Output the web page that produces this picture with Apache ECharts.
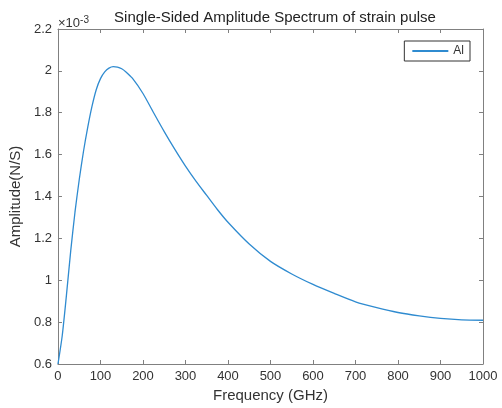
<!DOCTYPE html>
<html>
<head>
<meta charset="utf-8">
<script src="https://cdn.jsdelivr.net/npm/echarts@6/dist/echarts.min.js"></script>
<style>html,body{margin:0;padding:0;background:#fff;}#c{width:502px;height:408px;}</style>
</head>
<body>
<div id="c"></div>
<script>
const freq = [0,10,20,30,40,50,60,70,80,90,100,110,120,130,140,150,160,175,200,225,250,275,300,325,350,375,400,450,500,550,600,650,700,750,800,850,900,950,1000];
const amp = [0.60,0.735,0.93,1.14,1.325,1.48,1.615,1.73,1.83,1.91,1.963,1.995,2.013,2.02,2.018,2.01,1.995,1.965,1.892,1.80,1.71,1.625,1.545,1.472,1.405,1.338,1.277,1.173,1.09,1.03,0.98,0.937,0.897,0.869,0.846,0.830,0.818,0.811,0.809];
const xTicks = [0,100,200,300,400,500,600,700,800,900,1000];
const yTicks = [0.6,0.8,1,1.2,1.4,1.6,1.8,2,2.2];
const seriesName = 'Al';

const chart = echarts.init(document.getElementById('c'));
const font = 'Helvetica, Arial, "Liberation Sans", sans-serif';
const axisCol = '#808080';
const txtCol = '#333333';
const data = freq.map((f,i)=>[f, amp[i]]);
function axisBase(show){
  return {
    axisLine:{show:true, onZero:false, lineStyle:{color:axisCol, width:1}},
    axisTick:{show:true, inside:true, length:4, lineStyle:{color:axisCol}},
    splitLine:{show:false},
    axisLabel:{show:show, color:txtCol, fontSize:13, fontFamily:font, margin:6}
  };
}
const xa = axisBase(true);
xa.axisLabel.formatter = v => String(v);
const ya = axisBase(true);
ya.axisLabel.formatter = v => String(Math.round(v*10)/10);
chart.setOption({
  animation:false,
  title:{text:'Single-Sided Amplitude Spectrum of strain pulse', left:270, textAlign:'center', top:5,
    textStyle:{fontSize:15, fontWeight:'normal', color:'#222', fontFamily:font}},
  grid:{left:57, right:19, top:29, bottom:42},
  legend:{data:[seriesName], right:32, top:41, borderColor:'#333', borderWidth:1,
    padding:[4,6,4,8], itemWidth:36, itemHeight:2, itemGap:4, icon:'rect',
    textStyle:{fontSize:12, color:txtCol, fontFamily:font}},
  xAxis:[
    Object.assign(xa, {type:'value', min:0, max:1000, interval:100,
      name:'Frequency (GHz)', nameLocation:'middle', nameGap:24,
      nameTextStyle:{fontSize:15, color:txtCol, fontFamily:font}}),
    Object.assign(axisBase(false), {type:'value', min:0, max:1000, interval:100, position:'top'})
  ],
  yAxis:[
    Object.assign(ya, {type:'value', min:0.6, max:2.2, interval:0.2,
      name:'Amplitude(N/S)', nameLocation:'middle', nameGap:27,
      nameTextStyle:{fontSize:15, color:txtCol, fontFamily:font}}),
    Object.assign(axisBase(false), {type:'value', min:0.6, max:2.2, interval:0.2, position:'right'})
  ],
  graphic:[{type:'text', left:58, top:15, style:{
    text:'×10{s|-3}', rich:{s:{fontSize:10, verticalAlign:'top', padding:[0,0,6,0], fill:txtCol}},
    fontSize:13, fill:txtCol, fontFamily:font}}],
  series:[{name:seriesName, type:'line', data:data, smooth:0.25, symbol:'none',
    lineStyle:{color:'#2f8bd0', width:1.3}, itemStyle:{color:'#2f8bd0'}}]
});
</script>
</body>
</html>
